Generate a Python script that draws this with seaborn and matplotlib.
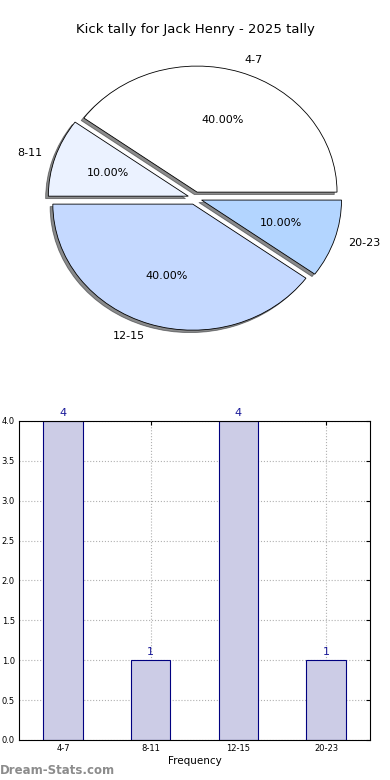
import matplotlib
matplotlib.use("Agg")
import matplotlib.pyplot as plt
import seaborn as sns

# Data
ranges = ["4-7", "8-11", "12-15", "20-23"]
counts = [4, 1, 4, 1]
pie_colors = ["#ffffff", "#ebf2ff", "#c5d9ff", "#b3d5ff"]
explode = [0.05, 0.05, 0.05, 0.05]

sns.set_style("white")
plt.rcParams["font.family"] = ["DejaVu Sans"]
plt.rcParams["text.color"] = "black"
plt.rcParams["axes.labelcolor"] = "black"
plt.rcParams["xtick.color"] = "black"
plt.rcParams["ytick.color"] = "black"

fig = plt.figure(figsize=(3.9, 7.8), dpi=100)

# -----------------------------
# Pie chart
# -----------------------------
ax_pie = fig.add_axes([0.0513, 0.544, 0.897, 0.404])
ax_pie.pie(counts, labels=ranges, colors=pie_colors, explode=explode,
           autopct="%.2f%%", startangle=0,
           shadow={"ox": -0.014, "oy": -0.014, "shade": 0.9},
           wedgeprops=dict(edgecolor="black", linewidth=0.6),
           textprops=dict(fontsize=8, color="black"))
ax_pie.set_aspect("auto")
ax_pie.set_xlim(-1.25, 1.25)
ax_pie.set_ylim(-1.25, 1.25)

fig.text(0.5, 1 - 30 / 780, "Kick tally for Jack Henry - 2025 tally",
         ha="center", va="center", fontsize=9.5, color="black")

# -----------------------------
# Bar chart
# -----------------------------
ax_bar = fig.add_axes([0.049, 0.0513, 0.9, 0.409])
sns.barplot(x=ranges, y=counts, ax=ax_bar, color="#ccccE6", saturation=1,
            edgecolor="#000080", linewidth=0.8, width=0.45)
ax_bar.bar_label(ax_bar.containers[0], labels=[str(c) for c in counts],
                 color="#1a1a99", fontsize=8, padding=2)

ax_bar.set_xlim(-0.5, 3.5)
ax_bar.set_ylim(0, 4)
yticks = [0, 0.5, 1.0, 1.5, 2.0, 2.5, 3.0, 3.5, 4.0]
ax_bar.set_yticks(yticks)
ax_bar.set_yticklabels([f"{v:.1f}" for v in yticks])
ax_bar.set_xlabel("Frequency", fontsize=7.5, labelpad=2)
ax_bar.set_ylabel("")
ax_bar.grid(True, color="#b0b0b0", linestyle=":", linewidth=0.8)
ax_bar.set_axisbelow(True)
ax_bar.tick_params(axis="both", labelsize=6, direction="in", length=3,
                   top=True, right=True, pad=3)
for spine in ax_bar.spines.values():
    spine.set_visible(True)
    spine.set_color("black")
    spine.set_linewidth(0.8)

fig.text(0.0, 1 - 771 / 780, "Dream-Stats.com", ha="left", va="center",
         fontsize=8.5, color="#8c8c8c", fontweight="bold")

plt.savefig("out.png", dpi=100)
